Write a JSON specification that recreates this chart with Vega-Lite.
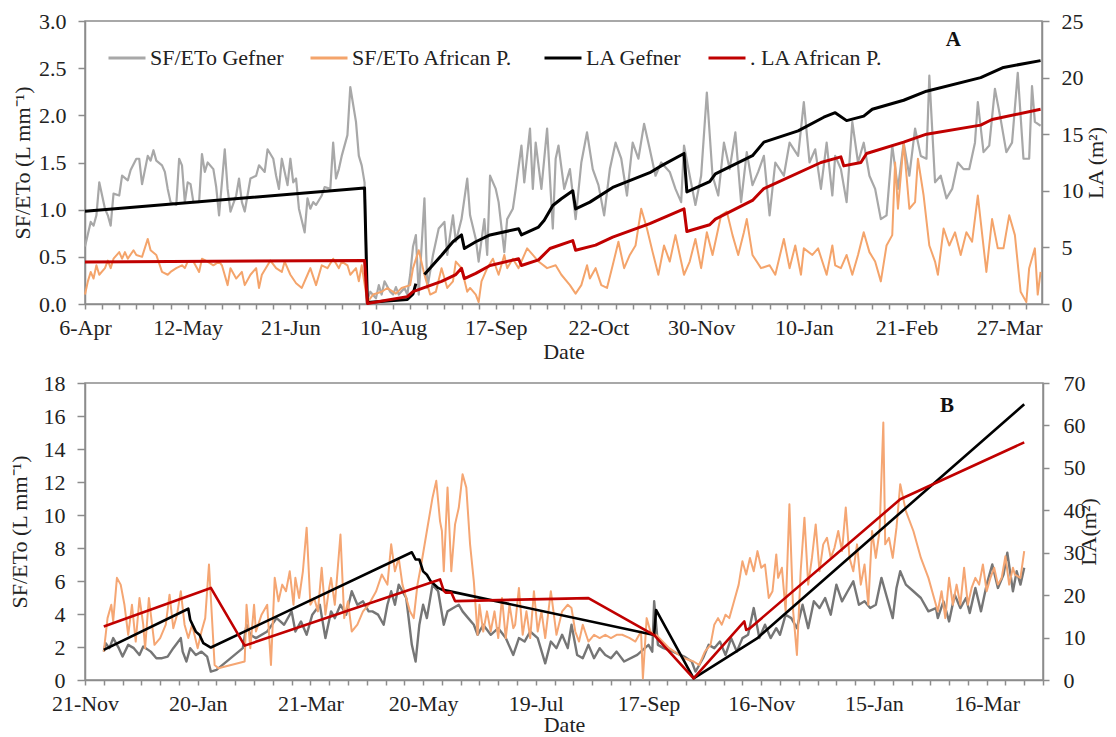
{
"$schema": "https://vega.github.io/schema/vega-lite/v6.json",
"padding": {"left": 7, "top": 9, "right": 0, "bottom": 0},
"background": "white",
"spacing": 8,
"resolve": {"scale": {"color": "independent"}, "legend": {"color": "independent"}},
"config": {
  "font": "Liberation Serif",
  "view": {"stroke": "#8c8c8c", "strokeWidth": 1.5},
  "axis": {"labelFont": "Liberation Serif", "labelFontSize": 22, "labelColor": "#222222", "titleFont": "Liberation Serif", "titleFontSize": 22, "titleFontWeight": "normal", "titleColor": "#222222", "domainColor": "#8c8c8c", "domainWidth": 1.5, "tickColor": "#8c8c8c", "tickWidth": 1.5, "grid": false},
  "title": {"font": "Liberation Serif", "fontSize": 21, "fontWeight": "bold", "color": "#111111", "anchor": "end", "frame": "group"},
  "line": {"strokeJoin": "round"}
},
"datasets": {
"aG": [{"obs":0,"sf":0.61},{"obs":2,"sf":0.87},{"obs":3,"sf":0.83},{"obs":4,"sf":0.94},{"obs":5,"sf":1.29},{"obs":7,"sf":1.01},{"obs":8,"sf":0.94},{"obs":9,"sf":0.83},{"obs":10,"sf":1.17},{"obs":12,"sf":1.15},{"obs":13,"sf":1.36},{"obs":15,"sf":1.31},{"obs":16,"sf":1.42},{"obs":18,"sf":1.54},{"obs":19,"sf":1.54},{"obs":20,"sf":1.27},{"obs":22,"sf":1.57},{"obs":23,"sf":1.52},{"obs":24,"sf":1.63},{"obs":25,"sf":1.52},{"obs":27,"sf":1.47},{"obs":28,"sf":1.40},{"obs":29,"sf":1.22},{"obs":30,"sf":1.08},{"obs":32,"sf":1.05},{"obs":33,"sf":1.54},{"obs":34,"sf":1.47},{"obs":35,"sf":1.08},{"obs":36,"sf":1.29},{"obs":37,"sf":1.27},{"obs":38,"sf":1.08},{"obs":40,"sf":1.08},{"obs":41,"sf":1.59},{"obs":42,"sf":1.40},{"obs":43,"sf":1.50},{"obs":45,"sf":1.43},{"obs":46,"sf":1.24},{"obs":47,"sf":0.94},{"obs":49,"sf":1.64},{"obs":50,"sf":1.22},{"obs":51,"sf":0.98},{"obs":53,"sf":1.15},{"obs":54,"sf":1.33},{"obs":55,"sf":1.08},{"obs":56,"sf":0.98},{"obs":58,"sf":1.33},{"obs":60,"sf":1.36},{"obs":61,"sf":1.47},{"obs":63,"sf":1.40},{"obs":64,"sf":1.64},{"obs":66,"sf":1.54},{"obs":67,"sf":1.36},{"obs":68,"sf":1.22},{"obs":69,"sf":1.54},{"obs":71,"sf":1.26},{"obs":72,"sf":1.54},{"obs":73,"sf":1.29},{"obs":74,"sf":1.33},{"obs":75,"sf":1.01},{"obs":77,"sf":0.76},{"obs":78,"sf":1.12},{"obs":79,"sf":1.01},{"obs":80,"sf":1.08},{"obs":81,"sf":1.05},{"obs":83,"sf":1.15},{"obs":84,"sf":1.24},{"obs":86,"sf":1.22},{"obs":87,"sf":1.71},{"obs":88,"sf":1.33},{"obs":89,"sf":1.43},{"obs":90,"sf":1.57},{"obs":92,"sf":1.79},{"obs":93,"sf":2.30},{"obs":95,"sf":1.93},{"obs":96,"sf":1.57},{"obs":97,"sf":1.47},{"obs":98,"sf":1.29},{"obs":99,"sf":0.04},{"obs":100,"sf":0.13},{"obs":102,"sf":0.06},{"obs":103,"sf":0.20},{"obs":104,"sf":0.10},{"obs":105,"sf":0.24},{"obs":107,"sf":0.13},{"obs":108,"sf":0.10},{"obs":109,"sf":0.18},{"obs":110,"sf":0.10},{"obs":112,"sf":0.17},{"obs":113,"sf":0.10},{"obs":114,"sf":0.31},{"obs":115,"sf":0.61},{"obs":116,"sf":0.73},{"obs":117,"sf":0.10},{"obs":119,"sf":1.12},{"obs":120,"sf":0.17},{"obs":122,"sf":0.52},{"obs":124,"sf":0.80},{"obs":126,"sf":0.87},{"obs":127,"sf":0.52},{"obs":129,"sf":0.94},{"obs":130,"sf":0.66},{"obs":132,"sf":0.90},{"obs":134,"sf":1.33},{"obs":135,"sf":0.94},{"obs":137,"sf":0.69},{"obs":138,"sf":0.45},{"obs":140,"sf":0.90},{"obs":141,"sf":0.52},{"obs":142,"sf":1.36},{"obs":144,"sf":1.22},{"obs":145,"sf":1.08},{"obs":147,"sf":0.55},{"obs":148,"sf":0.90},{"obs":150,"sf":1.01},{"obs":151,"sf":1.22},{"obs":153,"sf":1.68},{"obs":154,"sf":1.29},{"obs":156,"sf":1.86},{"obs":157,"sf":1.22},{"obs":158,"sf":1.71},{"obs":160,"sf":1.22},{"obs":162,"sf":1.86},{"obs":164,"sf":0.80},{"obs":165,"sf":1.54},{"obs":166,"sf":1.68},{"obs":168,"sf":1.22},{"obs":170,"sf":1.43},{"obs":172,"sf":0.90},{"obs":174,"sf":1.50},{"obs":176,"sf":1.82},{"obs":178,"sf":1.43},{"obs":180,"sf":1.26},{"obs":182,"sf":0.94},{"obs":184,"sf":1.43},{"obs":186,"sf":1.71},{"obs":188,"sf":1.54},{"obs":190,"sf":1.15},{"obs":192,"sf":1.71},{"obs":194,"sf":1.54},{"obs":196,"sf":1.91},{"obs":198,"sf":1.64},{"obs":200,"sf":1.36},{"obs":202,"sf":1.50},{"obs":205,"sf":1.40},{"obs":207,"sf":1.22},{"obs":209,"sf":1.08},{"obs":210,"sf":1.68},{"obs":212,"sf":1.36},{"obs":214,"sf":1.05},{"obs":216,"sf":1.36},{"obs":218,"sf":2.24},{"obs":220,"sf":1.36},{"obs":222,"sf":1.15},{"obs":224,"sf":1.71},{"obs":226,"sf":1.43},{"obs":228,"sf":1.82},{"obs":230,"sf":1.08},{"obs":232,"sf":1.61},{"obs":234,"sf":1.26},{"obs":236,"sf":1.40},{"obs":238,"sf":1.57},{"obs":240,"sf":0.94},{"obs":242,"sf":1.50},{"obs":245,"sf":1.36},{"obs":247,"sf":1.71},{"obs":250,"sf":1.57},{"obs":252,"sf":2.14},{"obs":254,"sf":1.50},{"obs":256,"sf":1.64},{"obs":258,"sf":1.22},{"obs":260,"sf":1.71},{"obs":262,"sf":1.15},{"obs":263,"sf":1.57},{"obs":265,"sf":1.43},{"obs":267,"sf":1.08},{"obs":269,"sf":1.93},{"obs":271,"sf":1.50},{"obs":273,"sf":1.71},{"obs":275,"sf":1.36},{"obs":277,"sf":1.22},{"obs":279,"sf":0.90},{"obs":281,"sf":0.94},{"obs":283,"sf":1.68},{"obs":285,"sf":1.22},{"obs":287,"sf":1.71},{"obs":289,"sf":1.36},{"obs":291,"sf":1.86},{"obs":293,"sf":1.57},{"obs":295,"sf":1.54},{"obs":296,"sf":2.42},{"obs":298,"sf":1.29},{"obs":300,"sf":1.36},{"obs":302,"sf":1.12},{"obs":304,"sf":1.22},{"obs":306,"sf":1.50},{"obs":308,"sf":1.43},{"obs":310,"sf":1.43},{"obs":312,"sf":1.71},{"obs":313,"sf":2.14},{"obs":315,"sf":1.61},{"obs":317,"sf":1.68},{"obs":319,"sf":2.28},{"obs":321,"sf":1.96},{"obs":323,"sf":1.61},{"obs":325,"sf":1.71},{"obs":327,"sf":2.45},{"obs":329,"sf":1.54},{"obs":331,"sf":1.54},{"obs":332,"sf":2.31},{"obs":333,"sf":1.93},{"obs":335,"sf":1.89}],
"aA": [{"obs":0,"sf":0.10},{"obs":1,"sf":0.24},{"obs":2,"sf":0.34},{"obs":3,"sf":0.27},{"obs":4,"sf":0.41},{"obs":5,"sf":0.31},{"obs":7,"sf":0.38},{"obs":8,"sf":0.46},{"obs":9,"sf":0.38},{"obs":10,"sf":0.48},{"obs":12,"sf":0.55},{"obs":13,"sf":0.48},{"obs":14,"sf":0.55},{"obs":15,"sf":0.48},{"obs":17,"sf":0.57},{"obs":18,"sf":0.52},{"obs":20,"sf":0.50},{"obs":22,"sf":0.69},{"obs":23,"sf":0.57},{"obs":25,"sf":0.52},{"obs":27,"sf":0.34},{"obs":29,"sf":0.31},{"obs":30,"sf":0.34},{"obs":32,"sf":0.38},{"obs":34,"sf":0.41},{"obs":35,"sf":0.38},{"obs":36,"sf":0.45},{"obs":38,"sf":0.45},{"obs":40,"sf":0.34},{"obs":41,"sf":0.48},{"obs":43,"sf":0.45},{"obs":45,"sf":0.41},{"obs":47,"sf":0.45},{"obs":48,"sf":0.41},{"obs":50,"sf":0.20},{"obs":51,"sf":0.38},{"obs":53,"sf":0.27},{"obs":55,"sf":0.34},{"obs":56,"sf":0.20},{"obs":58,"sf":0.31},{"obs":60,"sf":0.38},{"obs":61,"sf":0.17},{"obs":62,"sf":0.31},{"obs":64,"sf":0.41},{"obs":65,"sf":0.46},{"obs":67,"sf":0.38},{"obs":69,"sf":0.34},{"obs":70,"sf":0.45},{"obs":72,"sf":0.31},{"obs":74,"sf":0.22},{"obs":76,"sf":0.17},{"obs":78,"sf":0.31},{"obs":79,"sf":0.38},{"obs":81,"sf":0.20},{"obs":83,"sf":0.41},{"obs":85,"sf":0.38},{"obs":87,"sf":0.48},{"obs":89,"sf":0.38},{"obs":90,"sf":0.45},{"obs":92,"sf":0.41},{"obs":93,"sf":0.31},{"obs":95,"sf":0.38},{"obs":96,"sf":0.24},{"obs":97,"sf":0.41},{"obs":99,"sf":0.02},{"obs":101,"sf":0.10},{"obs":104,"sf":0.13},{"obs":106,"sf":0.17},{"obs":109,"sf":0.11},{"obs":111,"sf":0.17},{"obs":114,"sf":0.20},{"obs":115,"sf":0.38},{"obs":117,"sf":0.57},{"obs":119,"sf":0.31},{"obs":121,"sf":0.10},{"obs":123,"sf":0.13},{"obs":125,"sf":0.38},{"obs":127,"sf":0.17},{"obs":129,"sf":0.24},{"obs":130,"sf":0.45},{"obs":132,"sf":0.38},{"obs":134,"sf":0.13},{"obs":135,"sf":0.17},{"obs":137,"sf":0.10},{"obs":138,"sf":0.02},{"obs":139,"sf":0.24},{"obs":141,"sf":0.38},{"obs":143,"sf":0.48},{"obs":145,"sf":0.31},{"obs":147,"sf":0.52},{"obs":148,"sf":0.38},{"obs":150,"sf":0.48},{"obs":152,"sf":0.38},{"obs":155,"sf":0.59},{"obs":157,"sf":0.52},{"obs":159,"sf":0.45},{"obs":162,"sf":0.38},{"obs":165,"sf":0.41},{"obs":167,"sf":0.31},{"obs":170,"sf":0.20},{"obs":172,"sf":0.11},{"obs":174,"sf":0.20},{"obs":176,"sf":0.41},{"obs":177,"sf":0.27},{"obs":179,"sf":0.38},{"obs":181,"sf":0.20},{"obs":183,"sf":0.17},{"obs":185,"sf":0.41},{"obs":187,"sf":0.66},{"obs":189,"sf":0.38},{"obs":191,"sf":0.52},{"obs":193,"sf":0.62},{"obs":195,"sf":1.01},{"obs":197,"sf":0.80},{"obs":199,"sf":0.55},{"obs":201,"sf":0.31},{"obs":203,"sf":0.62},{"obs":205,"sf":0.45},{"obs":207,"sf":0.73},{"obs":209,"sf":0.45},{"obs":210,"sf":0.31},{"obs":212,"sf":0.45},{"obs":214,"sf":0.69},{"obs":216,"sf":0.38},{"obs":218,"sf":0.76},{"obs":220,"sf":0.52},{"obs":223,"sf":0.94},{"obs":225,"sf":0.98},{"obs":227,"sf":0.73},{"obs":229,"sf":0.52},{"obs":231,"sf":0.76},{"obs":232,"sf":0.90},{"obs":234,"sf":0.52},{"obs":237,"sf":0.38},{"obs":240,"sf":0.41},{"obs":242,"sf":0.31},{"obs":245,"sf":0.69},{"obs":247,"sf":0.38},{"obs":249,"sf":0.62},{"obs":251,"sf":0.31},{"obs":252,"sf":0.59},{"obs":255,"sf":0.52},{"obs":257,"sf":0.59},{"obs":260,"sf":0.31},{"obs":262,"sf":0.62},{"obs":263,"sf":0.41},{"obs":265,"sf":0.38},{"obs":267,"sf":0.52},{"obs":269,"sf":0.31},{"obs":271,"sf":0.52},{"obs":273,"sf":0.76},{"obs":275,"sf":0.55},{"obs":277,"sf":0.45},{"obs":279,"sf":0.24},{"obs":281,"sf":0.62},{"obs":283,"sf":0.73},{"obs":284,"sf":1.50},{"obs":285,"sf":1.01},{"obs":287,"sf":1.71},{"obs":289,"sf":1.01},{"obs":291,"sf":1.08},{"obs":292,"sf":1.54},{"obs":294,"sf":1.15},{"obs":296,"sf":0.62},{"obs":298,"sf":0.45},{"obs":299,"sf":0.31},{"obs":301,"sf":0.80},{"obs":303,"sf":0.62},{"obs":305,"sf":0.76},{"obs":307,"sf":0.52},{"obs":309,"sf":0.76},{"obs":311,"sf":0.66},{"obs":313,"sf":1.15},{"obs":316,"sf":0.34},{"obs":318,"sf":0.90},{"obs":320,"sf":0.59},{"obs":322,"sf":0.59},{"obs":324,"sf":0.94},{"obs":326,"sf":0.73},{"obs":328,"sf":0.13},{"obs":330,"sf":0.02},{"obs":331,"sf":0.38},{"obs":333,"sf":0.59},{"obs":334,"sf":0.10},{"obs":335,"sf":0.34}],
"aLG": [{"obs":0,"la":8.2,"seg":1},{"obs":98,"la":10.25,"seg":1},{"obs":99,"la":0.1,"seg":1},{"obs":100,"la":0.15,"seg":1},{"obs":113,"la":0.4,"seg":1},{"obs":115,"la":0.9,"seg":1},{"obs":116,"la":1.8,"seg":1},{"obs":119,"la":2.6,"seg":2},{"obs":125,"la":4.3,"seg":2},{"obs":129,"la":5.5,"seg":2},{"obs":132,"la":6.1,"seg":2},{"obs":133,"la":4.9,"seg":2},{"obs":137,"la":5.5,"seg":2},{"obs":142,"la":6.1,"seg":2},{"obs":152,"la":6.65,"seg":2},{"obs":153,"la":6.1,"seg":2},{"obs":159,"la":6.8,"seg":2},{"obs":161,"la":7.4,"seg":2},{"obs":164,"la":8.7,"seg":2},{"obs":167,"la":9.3,"seg":2},{"obs":171,"la":10.0,"seg":2},{"obs":172,"la":8.4,"seg":2},{"obs":177,"la":9.0,"seg":2},{"obs":185,"la":10.3,"seg":2},{"obs":198,"la":11.6,"seg":2},{"obs":202,"la":12.2,"seg":2},{"obs":210,"la":13.3,"seg":2},{"obs":211,"la":9.9,"seg":2},{"obs":219,"la":10.8,"seg":2},{"obs":221,"la":11.5,"seg":2},{"obs":234,"la":13.1,"seg":2},{"obs":238,"la":14.3,"seg":2},{"obs":250,"la":15.3,"seg":2},{"obs":259,"la":16.5,"seg":2},{"obs":263,"la":16.9,"seg":2},{"obs":267,"la":16.2,"seg":2},{"obs":273,"la":16.6,"seg":2},{"obs":276,"la":17.2,"seg":2},{"obs":287,"la":18.0,"seg":2},{"obs":295,"la":18.8,"seg":2},{"obs":314,"la":20.0,"seg":2},{"obs":322,"la":20.9,"seg":2},{"obs":335,"la":21.5,"seg":2}],
"aLA": [{"obs":0,"la":3.7},{"obs":98,"la":3.85},{"obs":99,"la":0.05},{"obs":113,"la":0.65},{"obs":115,"la":1.1},{"obs":125,"la":2.0},{"obs":130,"la":2.6},{"obs":132,"la":3.15},{"obs":133,"la":2.25},{"obs":137,"la":2.7},{"obs":142,"la":3.4},{"obs":152,"la":4.0},{"obs":153,"la":3.4},{"obs":159,"la":3.9},{"obs":163,"la":4.9},{"obs":171,"la":5.6},{"obs":172,"la":4.75},{"obs":179,"la":5.2},{"obs":185,"la":5.9},{"obs":198,"la":7.1},{"obs":210,"la":8.4},{"obs":211,"la":6.4},{"obs":219,"la":7.0},{"obs":221,"la":7.5},{"obs":234,"la":9.15},{"obs":238,"la":10.2},{"obs":258,"la":12.5},{"obs":265,"la":13.0},{"obs":266,"la":12.2},{"obs":272,"la":12.5},{"obs":274,"la":13.3},{"obs":287,"la":14.3},{"obs":295,"la":15.0},{"obs":314,"la":15.8},{"obs":318,"la":16.3},{"obs":335,"la":17.2}],
"bG": [{"date":"2016-12-01","sf":1.72},{"date":"2016-12-02","sf":2.23},{"date":"2016-12-04","sf":1.93},{"date":"2016-12-06","sf":2.54},{"date":"2016-12-09","sf":1.93},{"date":"2016-12-11","sf":1.42},{"date":"2016-12-14","sf":2.13},{"date":"2016-12-17","sf":1.93},{"date":"2016-12-20","sf":1.52},{"date":"2016-12-22","sf":2.03},{"date":"2016-12-26","sf":1.72},{"date":"2016-12-29","sf":1.32},{"date":"2017-01-01","sf":1.32},{"date":"2017-01-04","sf":1.42},{"date":"2017-01-07","sf":1.93},{"date":"2017-01-09","sf":2.23},{"date":"2017-01-11","sf":2.54},{"date":"2017-01-12","sf":1.72},{"date":"2017-01-14","sf":1.12},{"date":"2017-01-16","sf":1.93},{"date":"2017-01-19","sf":1.52},{"date":"2017-01-22","sf":1.72},{"date":"2017-01-25","sf":1.42},{"date":"2017-01-27","sf":0.51},{"date":"2017-01-30","sf":0.61},{"date":"2017-02-13","sf":1.93},{"date":"2017-02-15","sf":3.35},{"date":"2017-02-17","sf":2.74},{"date":"2017-02-20","sf":2.54},{"date":"2017-02-26","sf":2.94},{"date":"2017-03-03","sf":3.75},{"date":"2017-03-07","sf":3.35},{"date":"2017-03-11","sf":4.16},{"date":"2017-03-13","sf":2.94},{"date":"2017-03-16","sf":3.55},{"date":"2017-03-19","sf":2.74},{"date":"2017-03-22","sf":3.96},{"date":"2017-03-26","sf":4.56},{"date":"2017-03-29","sf":2.54},{"date":"2017-04-01","sf":4.16},{"date":"2017-04-03","sf":3.75},{"date":"2017-04-06","sf":4.56},{"date":"2017-04-09","sf":3.96},{"date":"2017-04-12","sf":5.38},{"date":"2017-04-15","sf":4.56},{"date":"2017-04-18","sf":4.77},{"date":"2017-04-21","sf":4.16},{"date":"2017-04-23","sf":4.16},{"date":"2017-04-26","sf":3.96},{"date":"2017-04-29","sf":3.35},{"date":"2017-05-01","sf":4.56},{"date":"2017-05-03","sf":5.38},{"date":"2017-05-05","sf":4.56},{"date":"2017-05-07","sf":5.78},{"date":"2017-05-11","sf":4.97},{"date":"2017-05-14","sf":2.13},{"date":"2017-05-16","sf":1.12},{"date":"2017-05-18","sf":3.35},{"date":"2017-05-20","sf":4.56},{"date":"2017-05-22","sf":3.75},{"date":"2017-05-25","sf":5.78},{"date":"2017-05-28","sf":5.38},{"date":"2017-05-31","sf":3.35},{"date":"2017-06-02","sf":4.16},{"date":"2017-06-05","sf":4.36},{"date":"2017-06-08","sf":4.56},{"date":"2017-06-10","sf":4.16},{"date":"2017-06-13","sf":3.75},{"date":"2017-06-16","sf":3.35},{"date":"2017-06-18","sf":2.74},{"date":"2017-06-21","sf":3.35},{"date":"2017-06-25","sf":2.74},{"date":"2017-06-29","sf":3.14},{"date":"2017-07-03","sf":2.54},{"date":"2017-07-07","sf":1.52},{"date":"2017-07-10","sf":2.54},{"date":"2017-07-13","sf":2.33},{"date":"2017-07-16","sf":2.94},{"date":"2017-07-20","sf":2.54},{"date":"2017-07-24","sf":1.01},{"date":"2017-07-27","sf":2.33},{"date":"2017-07-30","sf":1.93},{"date":"2017-08-02","sf":2.74},{"date":"2017-08-05","sf":1.93},{"date":"2017-08-07","sf":3.35},{"date":"2017-08-10","sf":1.52},{"date":"2017-08-13","sf":1.32},{"date":"2017-08-16","sf":2.13},{"date":"2017-08-19","sf":1.32},{"date":"2017-08-22","sf":1.93},{"date":"2017-08-25","sf":1.52},{"date":"2017-08-28","sf":1.32},{"date":"2017-08-31","sf":1.72},{"date":"2017-09-04","sf":1.12},{"date":"2017-09-11","sf":1.52},{"date":"2017-09-17","sf":2.13},{"date":"2017-09-19","sf":1.72},{"date":"2017-09-20","sf":4.77},{"date":"2017-09-22","sf":2.13},{"date":"2017-09-25","sf":1.93},{"date":"2017-09-30","sf":1.72},{"date":"2017-10-06","sf":1.42},{"date":"2017-10-10","sf":1.12},{"date":"2017-10-12","sf":0.51},{"date":"2017-10-14","sf":0.91},{"date":"2017-10-16","sf":1.32},{"date":"2017-10-19","sf":2.13},{"date":"2017-10-22","sf":1.93},{"date":"2017-10-25","sf":2.33},{"date":"2017-10-28","sf":1.52},{"date":"2017-10-31","sf":2.54},{"date":"2017-11-03","sf":1.72},{"date":"2017-11-06","sf":2.54},{"date":"2017-11-09","sf":2.74},{"date":"2017-11-12","sf":4.36},{"date":"2017-11-15","sf":2.54},{"date":"2017-11-18","sf":3.35},{"date":"2017-11-21","sf":2.54},{"date":"2017-11-24","sf":3.14},{"date":"2017-11-26","sf":2.74},{"date":"2017-11-29","sf":3.96},{"date":"2017-12-02","sf":3.75},{"date":"2017-12-05","sf":3.14},{"date":"2017-12-08","sf":4.56},{"date":"2017-12-11","sf":3.14},{"date":"2017-12-14","sf":4.77},{"date":"2017-12-17","sf":4.36},{"date":"2017-12-20","sf":4.97},{"date":"2017-12-23","sf":3.96},{"date":"2017-12-26","sf":5.78},{"date":"2017-12-29","sf":4.77},{"date":"2018-01-01","sf":5.38},{"date":"2018-01-04","sf":5.98},{"date":"2018-01-07","sf":4.56},{"date":"2018-01-10","sf":4.77},{"date":"2018-01-13","sf":4.36},{"date":"2018-01-16","sf":4.56},{"date":"2018-01-19","sf":6.19},{"date":"2018-01-22","sf":4.97},{"date":"2018-01-25","sf":3.75},{"date":"2018-01-27","sf":5.58},{"date":"2018-01-29","sf":6.59},{"date":"2018-02-01","sf":5.78},{"date":"2018-02-05","sf":5.38},{"date":"2018-02-09","sf":4.97},{"date":"2018-02-13","sf":4.16},{"date":"2018-02-17","sf":4.36},{"date":"2018-02-18","sf":3.75},{"date":"2018-02-21","sf":4.77},{"date":"2018-02-24","sf":3.55},{"date":"2018-02-27","sf":5.17},{"date":"2018-03-02","sf":4.36},{"date":"2018-03-05","sf":4.97},{"date":"2018-03-07","sf":4.06},{"date":"2018-03-10","sf":5.58},{"date":"2018-03-13","sf":4.16},{"date":"2018-03-16","sf":5.78},{"date":"2018-03-19","sf":7.0},{"date":"2018-03-22","sf":5.58},{"date":"2018-03-25","sf":6.39},{"date":"2018-03-27","sf":7.71},{"date":"2018-03-30","sf":5.38},{"date":"2018-04-01","sf":6.59},{"date":"2018-04-03","sf":5.78},{"date":"2018-04-05","sf":6.8}],
"bA": [{"date":"2016-12-01","sf":1.72},{"date":"2016-12-03","sf":3.75},{"date":"2016-12-05","sf":4.56},{"date":"2016-12-06","sf":3.55},{"date":"2016-12-08","sf":6.19},{"date":"2016-12-10","sf":5.78},{"date":"2016-12-12","sf":4.56},{"date":"2016-12-14","sf":2.74},{"date":"2016-12-16","sf":4.56},{"date":"2016-12-18","sf":2.33},{"date":"2016-12-20","sf":4.97},{"date":"2016-12-22","sf":3.35},{"date":"2016-12-23","sf":1.93},{"date":"2016-12-25","sf":4.97},{"date":"2016-12-28","sf":2.13},{"date":"2016-12-31","sf":2.54},{"date":"2017-01-03","sf":3.35},{"date":"2017-01-05","sf":5.17},{"date":"2017-01-07","sf":3.14},{"date":"2017-01-09","sf":3.96},{"date":"2017-01-11","sf":5.38},{"date":"2017-01-13","sf":3.35},{"date":"2017-01-15","sf":2.54},{"date":"2017-01-17","sf":3.35},{"date":"2017-01-20","sf":1.93},{"date":"2017-01-22","sf":2.94},{"date":"2017-01-24","sf":3.75},{"date":"2017-01-26","sf":7.0},{"date":"2017-01-27","sf":4.97},{"date":"2017-01-29","sf":0.91},{"date":"2017-01-31","sf":0.71},{"date":"2017-02-14","sf":1.12},{"date":"2017-02-15","sf":4.56},{"date":"2017-02-17","sf":1.93},{"date":"2017-02-19","sf":4.56},{"date":"2017-02-20","sf":2.94},{"date":"2017-02-23","sf":3.96},{"date":"2017-02-26","sf":4.56},{"date":"2017-02-28","sf":0.91},{"date":"2017-03-02","sf":6.19},{"date":"2017-03-04","sf":4.77},{"date":"2017-03-06","sf":5.78},{"date":"2017-03-08","sf":5.38},{"date":"2017-03-10","sf":6.59},{"date":"2017-03-12","sf":4.56},{"date":"2017-03-13","sf":6.19},{"date":"2017-03-15","sf":4.97},{"date":"2017-03-17","sf":6.59},{"date":"2017-03-19","sf":9.23},{"date":"2017-03-21","sf":4.56},{"date":"2017-03-23","sf":4.97},{"date":"2017-03-25","sf":4.16},{"date":"2017-03-27","sf":6.8},{"date":"2017-03-29","sf":3.96},{"date":"2017-03-31","sf":5.58},{"date":"2017-04-01","sf":6.19},{"date":"2017-04-03","sf":4.56},{"date":"2017-04-06","sf":8.82},{"date":"2017-04-08","sf":3.75},{"date":"2017-04-10","sf":4.77},{"date":"2017-04-12","sf":2.94},{"date":"2017-04-15","sf":3.35},{"date":"2017-04-18","sf":4.16},{"date":"2017-04-21","sf":4.56},{"date":"2017-04-25","sf":5.38},{"date":"2017-04-28","sf":6.39},{"date":"2017-05-01","sf":5.78},{"date":"2017-05-03","sf":8.22},{"date":"2017-05-05","sf":6.59},{"date":"2017-05-07","sf":7.4},{"date":"2017-05-09","sf":5.78},{"date":"2017-05-11","sf":4.97},{"date":"2017-05-13","sf":4.16},{"date":"2017-05-15","sf":3.75},{"date":"2017-05-17","sf":5.78},{"date":"2017-05-19","sf":7.0},{"date":"2017-05-22","sf":9.03},{"date":"2017-05-25","sf":11.05},{"date":"2017-05-27","sf":12.07},{"date":"2017-05-29","sf":9.63},{"date":"2017-05-30","sf":9.03},{"date":"2017-05-31","sf":6.59},{"date":"2017-06-02","sf":11.66},{"date":"2017-06-04","sf":6.59},{"date":"2017-06-06","sf":9.43},{"date":"2017-06-08","sf":10.45},{"date":"2017-06-10","sf":12.47},{"date":"2017-06-12","sf":11.66},{"date":"2017-06-14","sf":8.22},{"date":"2017-06-16","sf":5.98},{"date":"2017-06-18","sf":2.74},{"date":"2017-06-19","sf":4.56},{"date":"2017-06-21","sf":2.94},{"date":"2017-06-23","sf":4.16},{"date":"2017-06-25","sf":2.94},{"date":"2017-06-27","sf":4.16},{"date":"2017-06-29","sf":2.54},{"date":"2017-07-01","sf":4.97},{"date":"2017-07-03","sf":2.54},{"date":"2017-07-05","sf":4.56},{"date":"2017-07-07","sf":3.14},{"date":"2017-07-08","sf":3.35},{"date":"2017-07-10","sf":5.58},{"date":"2017-07-12","sf":2.74},{"date":"2017-07-14","sf":4.16},{"date":"2017-07-16","sf":2.54},{"date":"2017-07-18","sf":5.38},{"date":"2017-07-20","sf":2.94},{"date":"2017-07-22","sf":4.16},{"date":"2017-07-24","sf":2.54},{"date":"2017-07-27","sf":5.38},{"date":"2017-07-30","sf":2.74},{"date":"2017-08-02","sf":4.16},{"date":"2017-08-05","sf":4.56},{"date":"2017-08-07","sf":4.36},{"date":"2017-08-09","sf":2.94},{"date":"2017-08-11","sf":2.33},{"date":"2017-08-13","sf":3.35},{"date":"2017-08-16","sf":2.33},{"date":"2017-08-19","sf":2.74},{"date":"2017-08-22","sf":2.54},{"date":"2017-08-25","sf":2.74},{"date":"2017-08-28","sf":2.54},{"date":"2017-08-31","sf":2.74},{"date":"2017-09-03","sf":2.74},{"date":"2017-09-07","sf":2.54},{"date":"2017-09-10","sf":2.33},{"date":"2017-09-13","sf":2.94},{"date":"2017-09-14","sf":0.1},{"date":"2017-09-16","sf":3.75},{"date":"2017-09-18","sf":2.94},{"date":"2017-09-21","sf":2.74},{"date":"2017-09-28","sf":1.93},{"date":"2017-10-06","sf":1.32},{"date":"2017-10-11","sf":1.12},{"date":"2017-10-14","sf":0.91},{"date":"2017-10-17","sf":1.72},{"date":"2017-10-20","sf":2.13},{"date":"2017-10-22","sf":3.35},{"date":"2017-10-24","sf":3.75},{"date":"2017-10-26","sf":3.35},{"date":"2017-10-28","sf":3.96},{"date":"2017-10-30","sf":3.75},{"date":"2017-11-01","sf":4.56},{"date":"2017-11-04","sf":5.78},{"date":"2017-11-06","sf":7.2},{"date":"2017-11-08","sf":6.39},{"date":"2017-11-10","sf":7.4},{"date":"2017-11-12","sf":6.59},{"date":"2017-11-14","sf":7.81},{"date":"2017-11-16","sf":6.8},{"date":"2017-11-18","sf":7.0},{"date":"2017-11-20","sf":4.97},{"date":"2017-11-22","sf":5.38},{"date":"2017-11-24","sf":7.61},{"date":"2017-11-25","sf":6.19},{"date":"2017-11-27","sf":6.8},{"date":"2017-11-29","sf":4.16},{"date":"2017-12-01","sf":10.65},{"date":"2017-12-03","sf":4.16},{"date":"2017-12-05","sf":1.52},{"date":"2017-12-07","sf":6.59},{"date":"2017-12-09","sf":9.84},{"date":"2017-12-11","sf":5.78},{"date":"2017-12-13","sf":7.4},{"date":"2017-12-15","sf":9.43},{"date":"2017-12-17","sf":6.59},{"date":"2017-12-19","sf":8.22},{"date":"2017-12-21","sf":8.62},{"date":"2017-12-23","sf":7.4},{"date":"2017-12-25","sf":8.01},{"date":"2017-12-27","sf":9.03},{"date":"2017-12-29","sf":7.81},{"date":"2017-12-31","sf":10.45},{"date":"2018-01-02","sf":7.4},{"date":"2018-01-04","sf":6.59},{"date":"2018-01-06","sf":8.22},{"date":"2018-01-08","sf":5.78},{"date":"2018-01-10","sf":7.0},{"date":"2018-01-12","sf":4.56},{"date":"2018-01-14","sf":9.03},{"date":"2018-01-16","sf":7.4},{"date":"2018-01-18","sf":9.03},{"date":"2018-01-20","sf":15.6},{"date":"2018-01-21","sf":8.22},{"date":"2018-01-23","sf":8.62},{"date":"2018-01-25","sf":7.4},{"date":"2018-01-27","sf":9.23},{"date":"2018-01-29","sf":11.87},{"date":"2018-02-01","sf":10.24},{"date":"2018-02-05","sf":9.03},{"date":"2018-02-09","sf":7.4},{"date":"2018-02-13","sf":6.19},{"date":"2018-02-16","sf":4.97},{"date":"2018-02-18","sf":4.16},{"date":"2018-02-20","sf":5.38},{"date":"2018-02-22","sf":3.75},{"date":"2018-02-24","sf":6.19},{"date":"2018-02-26","sf":4.56},{"date":"2018-02-28","sf":5.78},{"date":"2018-03-02","sf":4.56},{"date":"2018-03-04","sf":6.8},{"date":"2018-03-06","sf":4.56},{"date":"2018-03-08","sf":5.58},{"date":"2018-03-10","sf":6.19},{"date":"2018-03-12","sf":5.78},{"date":"2018-03-14","sf":7.0},{"date":"2018-03-16","sf":5.38},{"date":"2018-03-18","sf":6.19},{"date":"2018-03-20","sf":6.8},{"date":"2018-03-22","sf":5.78},{"date":"2018-03-24","sf":6.19},{"date":"2018-03-26","sf":7.5},{"date":"2018-03-28","sf":5.78},{"date":"2018-03-30","sf":6.8},{"date":"2018-03-31","sf":6.39},{"date":"2018-04-03","sf":6.19},{"date":"2018-04-05","sf":7.81}],
"bLG": [{"date":"2016-12-01","la":7.1},{"date":"2017-01-15","la":16.8},{"date":"2017-01-16","la":14.2},{"date":"2017-01-19","la":11.4},{"date":"2017-01-21","la":10.6},{"date":"2017-01-23","la":8.7},{"date":"2017-01-27","la":7.65},{"date":"2017-05-14","la":30.1},{"date":"2017-05-16","la":28.4},{"date":"2017-05-18","la":28.4},{"date":"2017-05-20","la":25.6},{"date":"2017-05-22","la":24.8},{"date":"2017-05-24","la":23.3},{"date":"2017-05-28","la":21.7},{"date":"2017-05-30","la":21.3},{"date":"2017-09-20","la":10.6},{"date":"2017-09-21","la":16.5},{"date":"2017-10-11","la":0.4},{"date":"2017-11-14","la":9.85},{"date":"2017-11-15","la":10.3},{"date":"2018-04-05","la":65.0}],
"bLA": [{"date":"2016-12-01","la":12.6},{"date":"2017-01-27","la":21.7},{"date":"2017-02-14","la":8.1},{"date":"2017-05-29","la":23.7},{"date":"2017-05-31","la":21.0},{"date":"2017-06-01","la":20.6},{"date":"2017-06-04","la":20.6},{"date":"2017-06-06","la":18.6},{"date":"2017-08-16","la":19.3},{"date":"2017-09-20","la":10.6},{"date":"2017-10-11","la":0.4},{"date":"2017-11-07","la":13.8},{"date":"2017-11-08","la":11.8},{"date":"2017-11-10","la":12.2},{"date":"2018-01-29","la":42.6},{"date":"2018-04-05","la":56.0}]
},
"vconcat": [
{
  "title": {"text": "A", "offset": -40, "dx": -81},
  "width": 957, "height": 283,
  "encoding": {"x": {"field": "obs", "type": "quantitative", "title": "Date",
    "scale": {"domain": [0, 335.5], "nice": false, "zero": false},
    "axis": {"values": {"expr": "sequence(0, 331, 6)"}, "labelExpr": "datum.value % 36 === 0 ? ['6-Apr','12-May','21-Jun','10-Aug','17-Sep','22-Oct','30-Nov','10-Jan','21-Feb','27-Mar'][datum.value / 36] : ''", "labelOverlap": false, "labelFlush": false, "labelBound": false, "tickSize": 5, "labelPadding": 8, "titlePadding": 3}}},
  "layer": [
    {"encoding": {"y": {"field": "sf", "type": "quantitative", "title": "SF/ETo (L mm⁻¹)",
        "scale": {"domain": [0, 3], "nice": false},
        "axis": {"values": [0, 0.5, 1, 1.5, 2, 2.5, 3], "format": ".1f", "tickSize": 7, "labelPadding": 12, "titlePadding": 4}}},
     "layer": [
       {"data": {"name": "aG"}, "mark": {"type": "line", "strokeWidth": 2.2},
        "encoding": {"color": {"datum": "SF/ETo Gefner", "type": "nominal",
          "scale": {"domain": ["SF/ETo Gefner", "SF/ETo  African P.", "LA Gefner", ". LA African P."], "range": ["#a8a8a8", "#f4a46b", "#000000", "#c00000"]},
          "legend": {"title": null, "orient": "none", "legendX": 22, "legendY": 17, "direction": "horizontal", "symbolType": "stroke", "symbolSize": 1369, "symbolStrokeWidth": 3, "labelFont": "Liberation Serif", "labelFontSize": 22, "labelColor": "#222222", "labelLimit": 400, "columnPadding": 25, "labelOffset": 3, "padding": 0, "symbolOffset": 0}}}},
       {"data": {"name": "aA"}, "mark": {"type": "line", "strokeWidth": 2},
        "encoding": {"color": {"datum": "SF/ETo  African P.", "type": "nominal"}}}
     ]},
    {"encoding": {"y": {"field": "la", "type": "quantitative", "title": "LA (m²)",
        "scale": {"domain": [0, 25], "nice": false},
        "axis": {"orient": "right", "values": [0, 5, 10, 15, 20, 25], "tickSize": 7, "labelPadding": 12, "titlePadding": 24, "titleAngle": 270}}},
     "layer": [
       {"data": {"name": "aLG"}, "mark": {"type": "line", "strokeWidth": 3},
        "encoding": {"color": {"datum": "LA Gefner", "type": "nominal"}, "detail": {"field": "seg", "type": "nominal"}}},
       {"data": {"name": "aLA"}, "mark": {"type": "line", "strokeWidth": 3},
        "encoding": {"color": {"datum": ". LA African P.", "type": "nominal"}}}
     ]}
  ],
  "resolve": {"scale": {"y": "independent"}, "axis": {"y": "independent"}}
},
{
  "title": {"text": "B", "offset": -44, "dx": -89},
  "width": 958, "height": 297,
  "encoding": {"x": {"field": "date", "type": "temporal", "title": "Date",
    "scale": {"type": "utc", "domain": [{"year": 2016, "month": 11, "date": 21, "utc": true}, {"year": 2018, "month": 4, "date": 15, "utc": true}], "nice": false},
    "axis": {"values": {"expr": "sequence(1479686400000, 1523750400001, 864000000)"}, "labelExpr": "(round((datum.value - 1479686400000) / 86400000) % 60 === 0) ? utcFormat(datum.value, '%-d-%b') : ''", "labelOverlap": false, "labelFlush": false, "labelBound": false, "tickSize": 5, "labelPadding": 8, "titlePadding": 0}}},
  "layer": [
    {"encoding": {"y": {"field": "sf", "type": "quantitative", "title": "SF/ETo (L mm⁻¹)",
        "scale": {"domain": [0, 18], "nice": false},
        "axis": {"values": [0, 2, 4, 6, 8, 10, 12, 14, 16, 18], "tickSize": 8, "labelPadding": 12, "titlePadding": 12}}},
     "layer": [
       {"data": {"name": "bG"}, "mark": {"type": "line", "strokeWidth": 2.4, "color": "#767676"}},
       {"data": {"name": "bA"}, "mark": {"type": "line", "strokeWidth": 2, "color": "#f5a673"}}
     ]},
    {"encoding": {"y": {"field": "la", "type": "quantitative", "title": "LA(m²)",
        "scale": {"domain": [0, 70], "nice": false},
        "axis": {"orient": "right", "values": [0, 10, 20, 30, 40, 50, 60, 70], "tickSize": 6, "labelPadding": 14, "titlePadding": 15, "titleAngle": 270}}},
     "layer": [
       {"data": {"name": "bLG"}, "mark": {"type": "line", "strokeWidth": 2.6, "color": "#000000"}},
       {"data": {"name": "bLA"}, "mark": {"type": "line", "strokeWidth": 2.6, "color": "#c00000"}}
     ]}
  ],
  "resolve": {"scale": {"y": "independent"}, "axis": {"y": "independent"}}
}
]
}
